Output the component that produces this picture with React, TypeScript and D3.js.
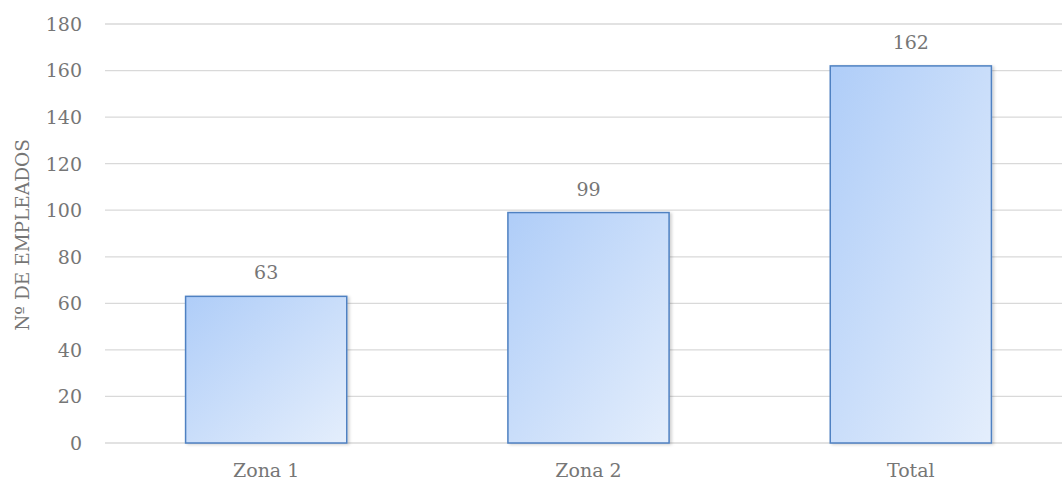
import { useEffect, useRef } from 'react';
import * as d3 from 'd3';

const categories = ['Zona 1', 'Zona 2', 'Total'];
const values = [63, 99, 162];
const yTicks = [0, 20, 40, 60, 80, 100, 120, 140, 160, 180];
const yLabel = 'Nº DE EMPLEADOS';

export default function App() {
  const svgRef = useRef<SVGSVGElement>(null);

  useEffect(() => {
    if (!svgRef.current) return;
    const width = 1062;
    const height = 482;
    const font = '"DejaVu Serif", serif';
    const textColor = '#767676';

    const svg = d3.select(svgRef.current);
    svg.selectAll('*').remove();
    svg.attr('width', width).attr('height', height);

    const defs = svg.append('defs');
    const grad = defs.append('linearGradient')
      .attr('id', 'barGrad')
      .attr('x1', '0').attr('y1', '0')
      .attr('x2', '1').attr('y2', '1');
    grad.append('stop').attr('offset', '0%').attr('stop-color', '#afcdf8');
    grad.append('stop').attr('offset', '100%').attr('stop-color', '#e4eefc');

    const filter = defs.append('filter').attr('id', 'shadow')
      .attr('x', '-5%').attr('y', '-5%').attr('width', '115%').attr('height', '115%');
    filter.append('feDropShadow')
      .attr('dx', 2).attr('dy', 1).attr('stdDeviation', 1.5)
      .attr('flood-color', '#000').attr('flood-opacity', 0.18);

    const x = d3.scaleBand()
      .domain(categories)
      .range([105, 1072])
      .paddingInner(0.5)
      .paddingOuter(0.25);

    const y = d3.scaleLinear()
      .domain([0, 180])
      .range([443, 24]);

    // gridlines
    svg.append('g')
      .selectAll('line')
      .data(yTicks)
      .join('line')
      .attr('x1', 105)
      .attr('x2', width)
      .attr('y1', d => y(d))
      .attr('y2', d => y(d))
      .attr('stroke', '#d9d9d9')
      .attr('stroke-width', 1.3);

    // y tick labels
    svg.append('g')
      .selectAll('text')
      .data(yTicks)
      .join('text')
      .attr('x', 82)
      .attr('y', d => y(d))
      .attr('dy', '0.36em')
      .attr('text-anchor', 'end')
      .style('font-family', font)
      .style('font-size', '19px')
      .style('fill', textColor)
      .text(d => String(d));

    // bars
    svg.append('g')
      .selectAll('rect')
      .data(values)
      .join('rect')
      .attr('x', (_, i) => x(categories[i]) || 0)
      .attr('y', d => y(d))
      .attr('width', x.bandwidth())
      .attr('height', d => y(0) - y(d))
      .attr('fill', 'url(#barGrad)')
      .attr('stroke', '#4f81c2')
      .attr('stroke-width', 1.5)
      .attr('filter', 'url(#shadow)');

    // value labels
    svg.append('g')
      .selectAll('text')
      .data(values)
      .join('text')
      .attr('x', (_, i) => (x(categories[i]) || 0) + x.bandwidth() / 2)
      .attr('y', d => y(d) - 17)
      .attr('text-anchor', 'middle')
      .style('font-family', font)
      .style('font-size', '19px')
      .style('fill', textColor)
      .text(d => String(d));

    // category labels
    svg.append('g')
      .selectAll('text')
      .data(categories)
      .join('text')
      .attr('x', d => (x(d) || 0) + x.bandwidth() / 2)
      .attr('y', 477)
      .attr('text-anchor', 'middle')
      .style('font-family', font)
      .style('font-size', '19px')
      .style('fill', textColor)
      .text(d => d);

    svg.append('text')
      .attr('transform', 'rotate(-90)')
      .attr('x', -235)
      .attr('y', 29)
      .attr('text-anchor', 'middle')
      .style('font-family', font)
      .style('font-size', '18.5px')
      .style('fill', textColor)
      .text(yLabel);
  }, []);

  return (
    <div style={{ position: 'absolute', left: 0, top: 0 }}>
      <svg ref={svgRef} style={{ display: 'block' }}></svg>
    </div>
  );
}
